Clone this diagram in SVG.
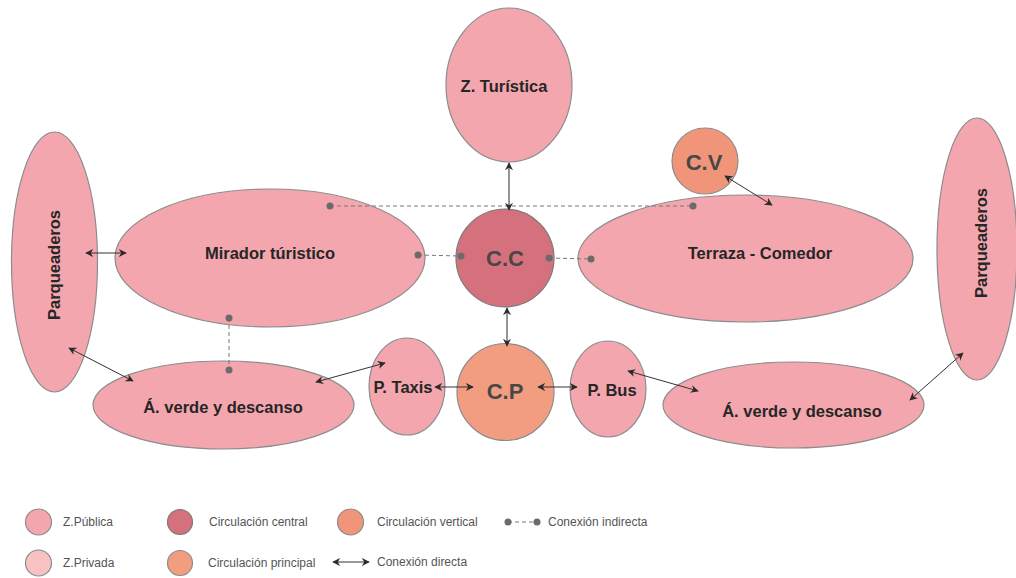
<svg xmlns="http://www.w3.org/2000/svg" width="1016" height="578" viewBox="0 0 1016 578">
  <defs>
    <marker id="ah" viewBox="0 0 10 10" refX="9" refY="5" markerWidth="8" markerHeight="8" markerUnits="userSpaceOnUse" orient="auto-start-reverse">
      <path d="M0,0 L10,5 L0,10 L3,5 Z" fill="#2b2b2b"/>
    </marker>
    <style>
      .pub { fill: #f4a6ae; stroke: #8c8c8c; stroke-width: 1.2; }
      .priv { fill: #f8c2c2; stroke: #8c8c8c; stroke-width: 1.2; }
      .cen { fill: #d5717d; stroke: #7a7a7a; stroke-width: 1.2; }
      .ver { fill: #f0957a; stroke: #8c8c8c; stroke-width: 1.2; }
      .pri { fill: #f39d80; stroke: #8c8c8c; stroke-width: 1.2; }
      .lbl { font-family: "Liberation Sans", Arial, sans-serif; font-weight: bold; font-size: 16.5px; fill: #262626; text-anchor: middle; dominant-baseline: central; }
      .big { font-family: "Liberation Sans", Arial, sans-serif; font-weight: bold; font-size: 22px; fill: #474747; text-anchor: middle; dominant-baseline: central; }
      .leg { font-family: "Liberation Sans", Arial, sans-serif; font-size: 12px; fill: #555; dominant-baseline: central; }
      .dir { stroke: #333; stroke-width: 1; fill: none; marker-start: url(#ah); marker-end: url(#ah); }
      .vdir { stroke: #7a7a7a; stroke-width: 1.6; fill: none; marker-start: url(#ah); marker-end: url(#ah); }
      .ind { stroke: #777; stroke-width: 1; stroke-dasharray: 4 3; fill: none; }
      .dot { fill: #6b6b6b; }
    </style>
  </defs>
  <rect width="1016" height="578" fill="#ffffff"/>

  <!-- zones -->
  <g id="z-turistica">
    <ellipse class="pub" cx="509" cy="85" rx="63" ry="77"/>
    <text class="lbl" x="504" y="86" font-size="17.4">Z. Turística</text>
  </g>
  <g id="parqueaderos-izq">
    <ellipse class="pub" cx="54.5" cy="262" rx="43" ry="130"/>
    <text class="lbl" transform="translate(54,265) rotate(-90)">Parqueaderos</text>
  </g>
  <g id="mirador">
    <ellipse class="pub" cx="270" cy="258" rx="155" ry="69"/>
    <text class="lbl" x="270" y="253">Mirador túristico</text>
  </g>
  <g id="terraza">
    <ellipse class="pub" cx="745.5" cy="258.5" rx="167.5" ry="63.5"/>
    <text class="lbl" x="760" y="253">Terraza - Comedor</text>
  </g>
  <g id="parqueaderos-der">
    <ellipse class="pub" cx="977" cy="249" rx="40" ry="131"/>
    <text class="lbl" transform="translate(981,243) rotate(-90)">Parqueaderos</text>
  </g>
  <g id="verde-izq">
    <ellipse class="pub" cx="223.5" cy="405" rx="130.5" ry="44"/>
    <text class="lbl" x="223" y="407">Á. verde y descanso</text>
  </g>
  <g id="verde-der">
    <ellipse class="pub" cx="793.5" cy="405" rx="130.5" ry="43"/>
    <text class="lbl" x="802" y="411">Á. verde y descanso</text>
  </g>
  <g id="p-taxis">
    <ellipse class="pub" cx="407" cy="386.5" rx="38" ry="48.5"/>
    <text class="lbl" x="403" y="387">P. Taxis</text>
  </g>
  <g id="p-bus">
    <ellipse class="pub" cx="608" cy="389" rx="38" ry="48"/>
    <text class="lbl" x="612" y="390">P. Bus</text>
  </g>
  <g id="c-c">
    <circle class="cen" cx="505" cy="258" r="49"/>
    <text class="big" x="505" y="258">C.C</text>
  </g>
  <g id="c-p">
    <circle class="pri" cx="505.5" cy="392" r="48.5"/>
    <text class="big" x="505" y="391">C.P</text>
  </g>
  <g id="c-v">
    <circle class="ver" cx="705" cy="161" r="33"/>
    <text class="big" x="704" y="162">C.V</text>
  </g>

  <!-- connectors -->
  <g id="connectors">
    <path class="ind" d="M330,206 H693"/>
    <path class="ind" d="M418,255 L461,256"/>
    <path class="ind" d="M549,258 L591,259"/>
    <path class="ind" d="M229,318 V370"/>
    <circle class="dot" cx="330" cy="206" r="3.5"/>
    <circle class="dot" cx="693" cy="206" r="3.5"/>
    <circle class="dot" cx="418" cy="255" r="3.5"/>
    <circle class="dot" cx="461" cy="256" r="3.5"/>
    <circle class="dot" cx="549" cy="258" r="3.5"/>
    <circle class="dot" cx="591" cy="259" r="3.5"/>
    <circle class="dot" cx="229" cy="318" r="3.5"/>
    <circle class="dot" cx="229" cy="370" r="3.5"/>

    <path class="vdir" d="M509,163 V210"/>
    <path class="vdir" d="M507,308 V346"/>
    <path class="dir" d="M725,176 L772,205"/>
    <path class="dir" d="M86,253 H126"/>
    <path class="dir" d="M69,348 L133,381"/>
    <path class="dir" d="M316,382 L385,363"/>
    <path class="dir" d="M435,387 H473"/>
    <path class="dir" d="M538,387 H577"/>
    <path class="dir" d="M628,371 L698,391"/>
    <path class="dir" d="M910,400 L963,353"/>
  </g>

  <!-- legend -->
  <g id="legend">
    <circle class="pub" cx="38.5" cy="522" r="13"/>
    <text class="leg" x="63" y="522">Z.Pública</text>
    <circle class="priv" cx="38.5" cy="563" r="13"/>
    <text class="leg" x="63" y="563">Z.Privada</text>
    <circle class="cen" cx="180" cy="522" r="12.5"/>
    <text class="leg" x="209" y="522">Circulación central</text>
    <circle class="pri" cx="180" cy="563" r="12.5"/>
    <text class="leg" x="208" y="563">Circulación principal</text>
    <circle class="ver" cx="350.5" cy="522" r="13"/>
    <text class="leg" x="377" y="522">Circulación vertical</text>
    <path class="dir" d="M333,562 H369"/>
    <text class="leg" x="377" y="562">Conexión directa</text>
    <path class="ind" d="M508,522 H537"/>
    <circle class="dot" cx="508" cy="522" r="3.5"/>
    <circle class="dot" cx="537" cy="522" r="3.5"/>
    <text class="leg" x="548" y="522">Conexión indirecta</text>
  </g>
</svg>
